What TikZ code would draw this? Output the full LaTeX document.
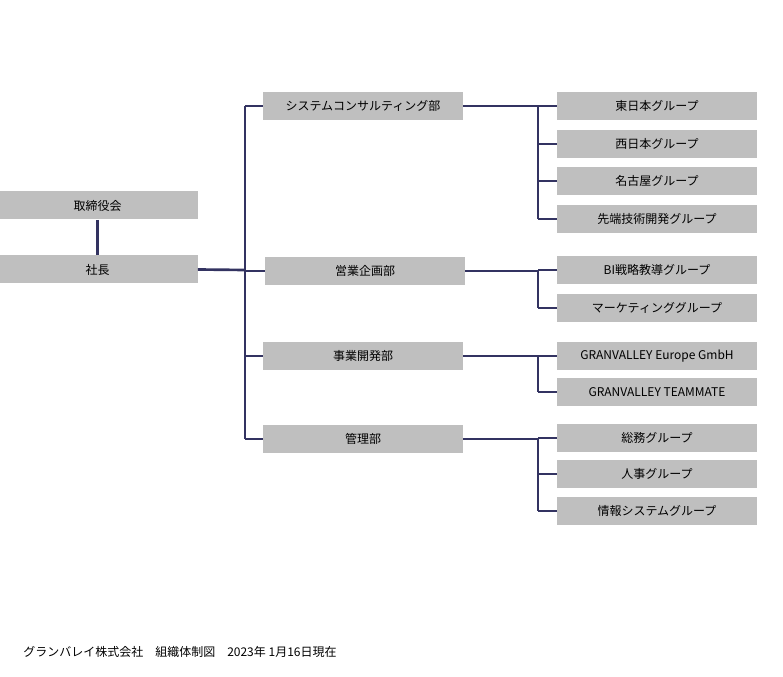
\documentclass[tikz,border=0pt]{standalone}
\usepackage{fontspec}
\setmainfont{Noto Sans CJK JP}
\begin{document}
\begin{tikzpicture}[x=0.75pt,y=-0.75pt,
  box/.style={fill=black!25,minimum width=150pt,minimum height=21pt,inner sep=0pt,font=\fontsize{9}{10}\selectfont},
  ln/.style={draw=black!70!blue!60!gray,line width=2pt}]
\useasboundingbox (0,0) rectangle (783,677);
\node[box] (bod) at (97.5,205.5) {取締役会};
\node[box] (ceo) at (97.5,269.5) {社長};
\node[box] (d1) at (363,106) {システムコンサルティング部};
\node[box] (d2) at (365,271) {営業企画部};
\node[box] (d3) at (363,356) {事業開発部};
\node[box] (d4) at (363,439) {管理部};
\foreach \n/\y/\t in {g1/106/東日本グループ,g2/144/西日本グループ,g3/181/名古屋グループ,g4/219/先端技術開発グループ,g5/270/BI戦略教導グループ,g6/308/マーケティンググループ,g7/356/GRANVALLEY Europe GmbH,g8/392/GRANVALLEY TEAMMATE,g9/438/総務グループ,g10/474/人事グループ,g11/511/情報システムグループ}
  \node[box] (\n) at (657,\y) {\t};
\draw[ln] (bod) -- (ceo);
\coordinate (tr) at (245,270);
\draw[ln] (ceo.east) -- (tr);
\draw[ln] (245,106) -- (245,439);
\foreach \d/\y in {d1/106,d2/271,d3/356,d4/439} \draw[ln] (245,\y) -- (\d.west);
\foreach \d/\y/\e in {d1/106/219,d2/271/308,d3/356/392,d4/439/511}{
  \draw[ln] (\d.east) -- (538,\y);
  \draw[ln] (538,\y) -- (538,\e);}
\foreach \g/\y in {g1/106,g2/144,g3/181,g4/219,g5/270,g6/308,g7/356,g8/392,g9/438,g10/474,g11/511}
  \draw[ln] (538,\y) -- (\g.west);
\node[anchor=west,font=\fontsize{9}{10}\selectfont,inner sep=0pt] (ft) at (23,652) {グランバレイ株式会社\quad 組織体制図\quad 2023年 1月16日現在};
\end{tikzpicture}
\end{document}
